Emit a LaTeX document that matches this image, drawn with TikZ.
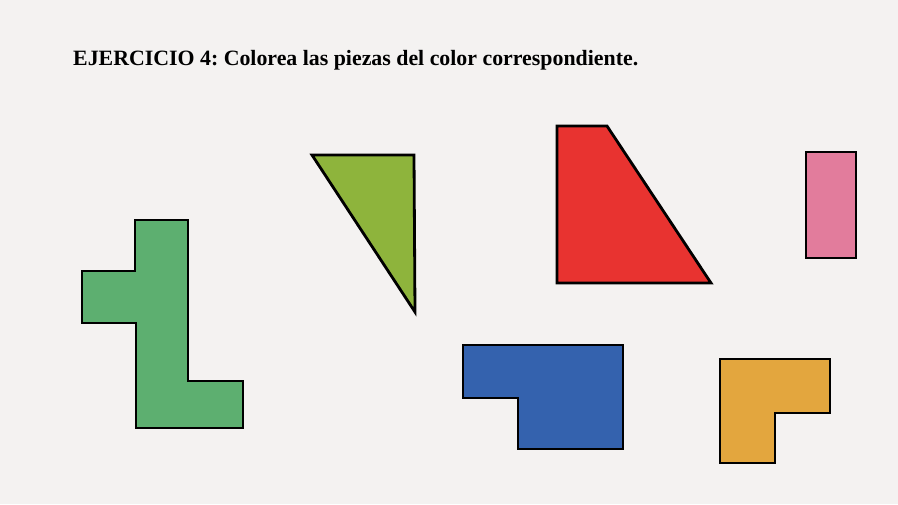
\documentclass[tikz,border=0pt]{standalone}
\usepackage{fontspec}
\setmainfont{Liberation Serif}
\frenchspacing
\definecolor{paper}{HTML}{F4F2F1}
\definecolor{pgreen}{HTML}{5DAF70}
\definecolor{pyellowgreen}{HTML}{8EB43C}
\definecolor{pred}{HTML}{E83330}
\definecolor{ppink}{HTML}{E27C9C}
\definecolor{pblue}{HTML}{3462AE}
\definecolor{porange}{HTML}{E3A63E}
\tikzset{piece/.style={draw=black, line width=2.8pt, line join=miter}}
\begin{document}
\begin{tikzpicture}[x=1pt,y=-1pt]
\fill[paper] (0,0) rectangle (898,504);
\useasboundingbox (0,0) rectangle (898,504);
\node[anchor=base west, inner sep=0pt] (title) at (73,65) {\resizebox{565pt}{!}{\bfseries EJERCICIO 4: Colorea las piezas del color correspondiente.}};
% green L-shape
\draw[piece, fill=pgreen] (135,220) -- (188,220) -- (188,381) -- (243,381) -- (243,428) -- (136,428) -- (136,323) -- (82,323) -- (82,271) -- (135,271) -- cycle;
% triangle
\draw[piece, fill=pyellowgreen] (312,155) -- (414,155) -- (415,312) -- cycle;
% red trapezoid
\draw[piece, fill=pred] (557,126) -- (607,126) -- (711,283) -- (557,283) -- cycle;
% pink rectangle
\draw[piece, fill=ppink] (806,152) rectangle (856,258);
% blue shape
\draw[piece, fill=pblue] (463,345) -- (623,345) -- (623,449) -- (518,449) -- (518,398) -- (463,398) -- cycle;
% orange L
\draw[piece, fill=porange] (720,359) -- (830,359) -- (830,413) -- (775,413) -- (775,463) -- (720,463) -- cycle;
\end{tikzpicture}
\end{document}
